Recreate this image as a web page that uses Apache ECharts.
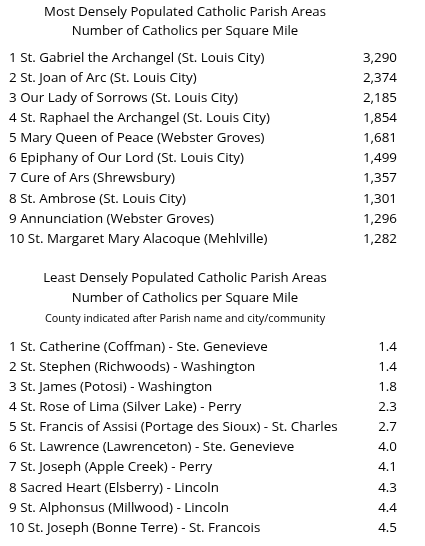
<!DOCTYPE html><html><head><meta charset="utf-8">
<script src="https://cdn.jsdelivr.net/npm/echarts@6/dist/echarts.min.js"></script>
<style>html,body{margin:0;background:#fff}#c{width:425px;height:546px}</style></head><body><div id="c"></div>
<script>
const mostTitle = "Most Densely Populated Catholic Parish Areas";
const subTitle = "Number of Catholics per Square Mile";
const mostNames = ["St. Gabriel the Archangel (St. Louis City)","St. Joan of Arc (St. Louis City)","Our Lady of Sorrows (St. Louis City)","St. Raphael the Archangel (St. Louis City)","Mary Queen of Peace (Webster Groves)","Epiphany of Our Lord (St. Louis City)","Cure of Ars (Shrewsbury)","St. Ambrose (St. Louis City)","Annunciation (Webster Groves)","St. Margaret Mary Alacoque (Mehlville)"];
const mostValues = [3290,2374,2185,1854,1681,1499,1357,1301,1296,1282];
const leastTitle = "Least Densely Populated Catholic Parish Areas";
const leastNote = "County indicated after Parish name and city/community";
const leastNames = ["St. Catherine (Coffman) - Ste. Genevieve","St. Stephen (Richwoods) - Washington","St. James (Potosi) - Washington","St. Rose of Lima (Silver Lake) - Perry","St. Francis of Assisi (Portage des Sioux) - St. Charles","St. Lawrence (Lawrenceton) - Ste. Genevieve","St. Joseph (Apple Creek) - Perry","Sacred Heart (Elsberry) - Lincoln","St. Alphonsus (Millwood) - Lincoln","St. Joseph (Bonne Terre) - St. Francois"];
const leastValues = [1.4,1.4,1.8,2.3,2.7,4.0,4.1,4.3,4.4,4.5];

const F = '"Open Sans", sans-serif', C = '#000';
const els = [];
function t(x,y,s,align,size){els.push({type:'text',x:x,y:y,style:{text:s,font:(size||13.4)+'px '+F,fill:C,textAlign:align||'left',textVerticalAlign:'middle'}});}
t(185,12,mostTitle,'center',13.2);
t(185,31,subTitle,'center',13.2);
mostNames.forEach((n,i)=>{const y=58+i*20.1;t(9,y,(i+1)+' '+n);t(397,y,mostValues[i].toLocaleString('en-US'),'right');});
t(185,278,leastTitle,'center',13.2);
t(185,298,subTitle,'center',13.2);
t(185,319,leastNote,'center',10.8);
leastNames.forEach((n,i)=>{const y=347+i*20.1;t(9,y,(i+1)+' '+n);t(397,y,leastValues[i].toFixed(1),'right');});
const ch = echarts.init(document.getElementById('c'));
ch.setOption({backgroundColor:'#fff',graphic:els});
</script></body></html>
